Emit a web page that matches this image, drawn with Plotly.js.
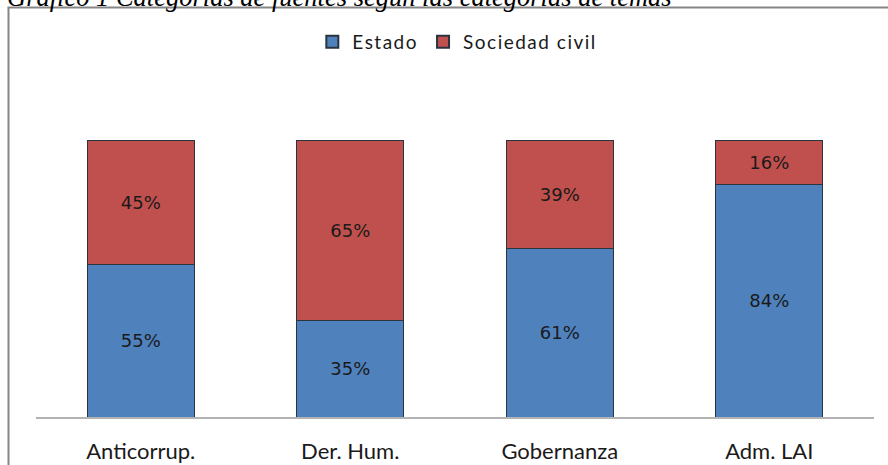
<!DOCTYPE html>
<html>
<head>
<meta charset="utf-8">
<script src="https://cdn.plot.ly/plotly-3.0.1.min.js"></script>
<style>
html,body{margin:0;padding:0;background:#fff;}
#chart{width:888px;height:465px;}
.legendtext{letter-spacing:1.5px;}
</style>
</head>
<body>
<div id="chart"></div>
<script>
const categories = ["Anticorrup.", "Der. Hum.", "Gobernanza", "Adm. LAI"];
const estado = [55, 35, 61, 84];
const sociedadCivil = [45, 65, 39, 16];
const seriesNames = ["Estado", "Sociedad civil"];
const figureTitle = "Gráfico 1 Categorías de fuentes según las categorías de temas";

const W = 888, H = 465;
const lineCol = '#2a3440';
const labelFont = {family: 'DejaVu Sans, sans-serif', size: 18, color: '#1a1a1a'};

const traces = [
  {type: 'bar', name: seriesNames[0], x: categories, y: estado,
   text: estado.map(v => v + '%'), textposition: 'inside', insidetextanchor: 'middle',
   textfont: labelFont, constraintext: 'none', hoverinfo: 'skip',
   marker: {color: '#4F81BD', line: {color: lineCol, width: 1}}},
  {type: 'bar', name: seriesNames[1], x: categories, y: sociedadCivil,
   text: sociedadCivil.map(v => v + '%'), textposition: 'inside', insidetextanchor: 'middle',
   textfont: labelFont, constraintext: 'none', hoverinfo: 'skip',
   marker: {color: '#C0504D', line: {color: lineCol, width: 1}}}
];

const layout = {
  width: W, height: H,
  margin: {l: 0, r: 0, t: 0, b: 0},
  paper_bgcolor: '#fff', plot_bgcolor: 'rgba(0,0,0,0)',
  barmode: 'stack', bargap: 0.49,
  showlegend: true,
  legend: {orientation: 'h', x: 0.515, xanchor: 'center', y: 1 - 42 / H, yanchor: 'middle',
    font: {family: 'Lato, sans-serif', size: 19, color: '#1a1a1a'}, traceorder: 'normal',
    itemwidth: 30, itemsizing: 'constant'},
  xaxis: {domain: [36 / W, 874 / W], showgrid: false, zeroline: false,
    showline: true, linecolor: '#b3b3b3', linewidth: 2,
    ticks: 'outside', ticklen: 14, tickcolor: 'rgba(0,0,0,0)',
    tickfont: {family: 'Lato, sans-serif', size: 22, color: '#1a1a1a'}},
  yaxis: {domain: [1 - 417 / H, 1 - 140 / H], range: [0, 100], visible: false, fixedrange: true},
  shapes: [
    {type: 'line', xref: 'paper', yref: 'paper', x0: 8.5 / W, x1: 8.5 / W, y0: 0, y1: 1 - 7.5 / H,
     line: {color: '#868686', width: 2}},
    {type: 'line', xref: 'paper', yref: 'paper', x0: 7.5 / W, x1: 1, y0: 1 - 7.5 / H, y1: 1 - 7.5 / H,
     line: {color: '#868686', width: 2}}
  ],
  annotations: [
    {text: figureTitle, xref: 'paper', yref: 'paper', x: 5 / W, xanchor: 'left',
     y: 1 - 14 / H, yanchor: 'bottom', showarrow: false,
     font: {family: 'Liberation Serif, serif', size: 26.5, color: '#000', style: 'italic'}}
  ]
};

Plotly.newPlot('chart', traces, layout, {displayModeBar: false, staticPlot: true});
</script>
</body>
</html>
